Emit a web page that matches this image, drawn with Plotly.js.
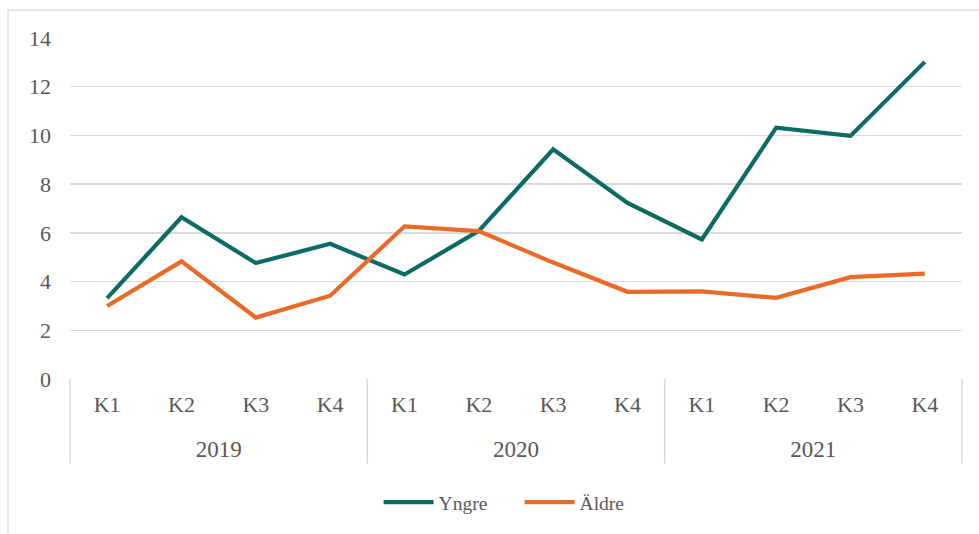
<!DOCTYPE html>
<html>
<head>
<meta charset="utf-8">
<script src="https://cdn.plot.ly/plotly-3.0.1.min.js"></script>
<style>
  html, body { margin: 0; padding: 0; background: #fff; }
  #chart { width: 979px; height: 534px; }
</style>
</head>
<body>
<div id="chart"></div>
<script>
const years = ['2019', '2020', '2021'];
const quarters = ['K1', 'K2', 'K3', 'K4'];
const yngre = [3.32, 6.64, 4.76, 5.55, 4.29, 6.08, 9.43, 7.23, 5.73, 10.32, 9.98, 13.02];
const aldre = [3.00, 4.83, 2.52, 3.42, 6.27, 6.07, 4.78, 3.58, 3.60, 3.33, 4.18, 4.33];
const seriesNames = ['Yngre', 'Äldre'];
const yTicks = [0, 2, 4, 6, 8, 10, 12, 14];

// category keys (unique), with quarter labels shown and year group labels below
const cats = [], catLabels = [];
years.forEach(y => quarters.forEach(q => { cats.push(y + ' ' + q); catLabels.push(q); }));
const nq = quarters.length;
const yearCenters = years.map((y, i) => i * nq + (nq - 1) / 2);

const FONT = 'Liberation Serif, Times New Roman, serif';
const TXT = '#595959';
const GRID = '#d9d9d9';

const traces = [
  { x: cats, y: yngre, name: seriesNames[0], type: 'scatter', mode: 'lines',
    line: { color: '#0e6b63', width: 4.2 } },
  { x: cats, y: aldre, name: seriesNames[1], type: 'scatter', mode: 'lines',
    line: { color: '#ea6a27', width: 4.2 } },
  // carrier for the year-group axis (draws nothing)
  { x: yearCenters, y: years.map(() => null), xaxis: 'x2', yaxis: 'y', type: 'scatter',
    mode: 'lines', showlegend: false, hoverinfo: 'skip' }
];

// group divider lines (axis structure) at group boundaries, in paper units
const nCat = cats.length;
const divH = -85 / 343;
const shapes = [];
for (let g = 0; g <= years.length; g++) {
  shapes.push({ type: 'line', xref: 'paper', yref: 'paper',
    x0: g * nq / nCat, x1: g * nq / nCat, y0: 0, y1: divH,
    line: { color: GRID, width: 1.5 } });
}
shapes.push({ type: 'rect', xref: 'paper', yref: 'paper',
  x0: -0.0695, x1: 1.03, y0: -0.47, y1: 1.0816,
  line: { color: GRID, width: 1.2 }, fillcolor: 'rgba(0,0,0,0)', layer: 'below' });

const layout = {
  width: 979, height: 534,
  margin: { l: 70, r: 17, t: 38, b: 153 },
  paper_bgcolor: '#fff', plot_bgcolor: '#fff',
  font: { family: FONT, size: 22, color: TXT },
  showlegend: true,
  legend: { orientation: 'h', x: 0.504, xanchor: 'center', y: -0.305, yanchor: 'top',
    font: { family: FONT, size: 19.5, color: TXT }, itemwidth: 50,
    entrywidth: 76, entrywidthmode: 'pixels' },
  xaxis: {
    type: 'category', range: [-0.5, nCat - 0.5],
    tickvals: cats, ticktext: catLabels,
    showgrid: false, zeroline: false, showline: false,
    ticks: '', ticklabelstandoff: 10,
    tickfont: { family: FONT, size: 22, color: TXT }
  },
  xaxis2: {
    overlaying: 'x', anchor: 'y', side: 'bottom',
    type: 'linear', range: [-0.5, nCat - 0.5],
    tickvals: yearCenters, ticktext: years,
    showgrid: false, zeroline: false, showline: false,
    ticks: '', ticklabelstandoff: 54,
    tickfont: { family: FONT, size: 23, color: TXT }
  },
  yaxis: {
    range: [0, 14], tickvals: yTicks, ticktext: yTicks.map(String),
    showgrid: true, gridcolor: GRID, gridwidth: 1.5,
    zeroline: false, showline: false, ticks: '', ticklabelstandoff: 18,
    tickfont: { family: FONT, size: 22, color: TXT }
  },
  shapes: shapes
};

Plotly.newPlot('chart', traces, layout, { staticPlot: true, displayModeBar: false });
</script>
</body>
</html>
